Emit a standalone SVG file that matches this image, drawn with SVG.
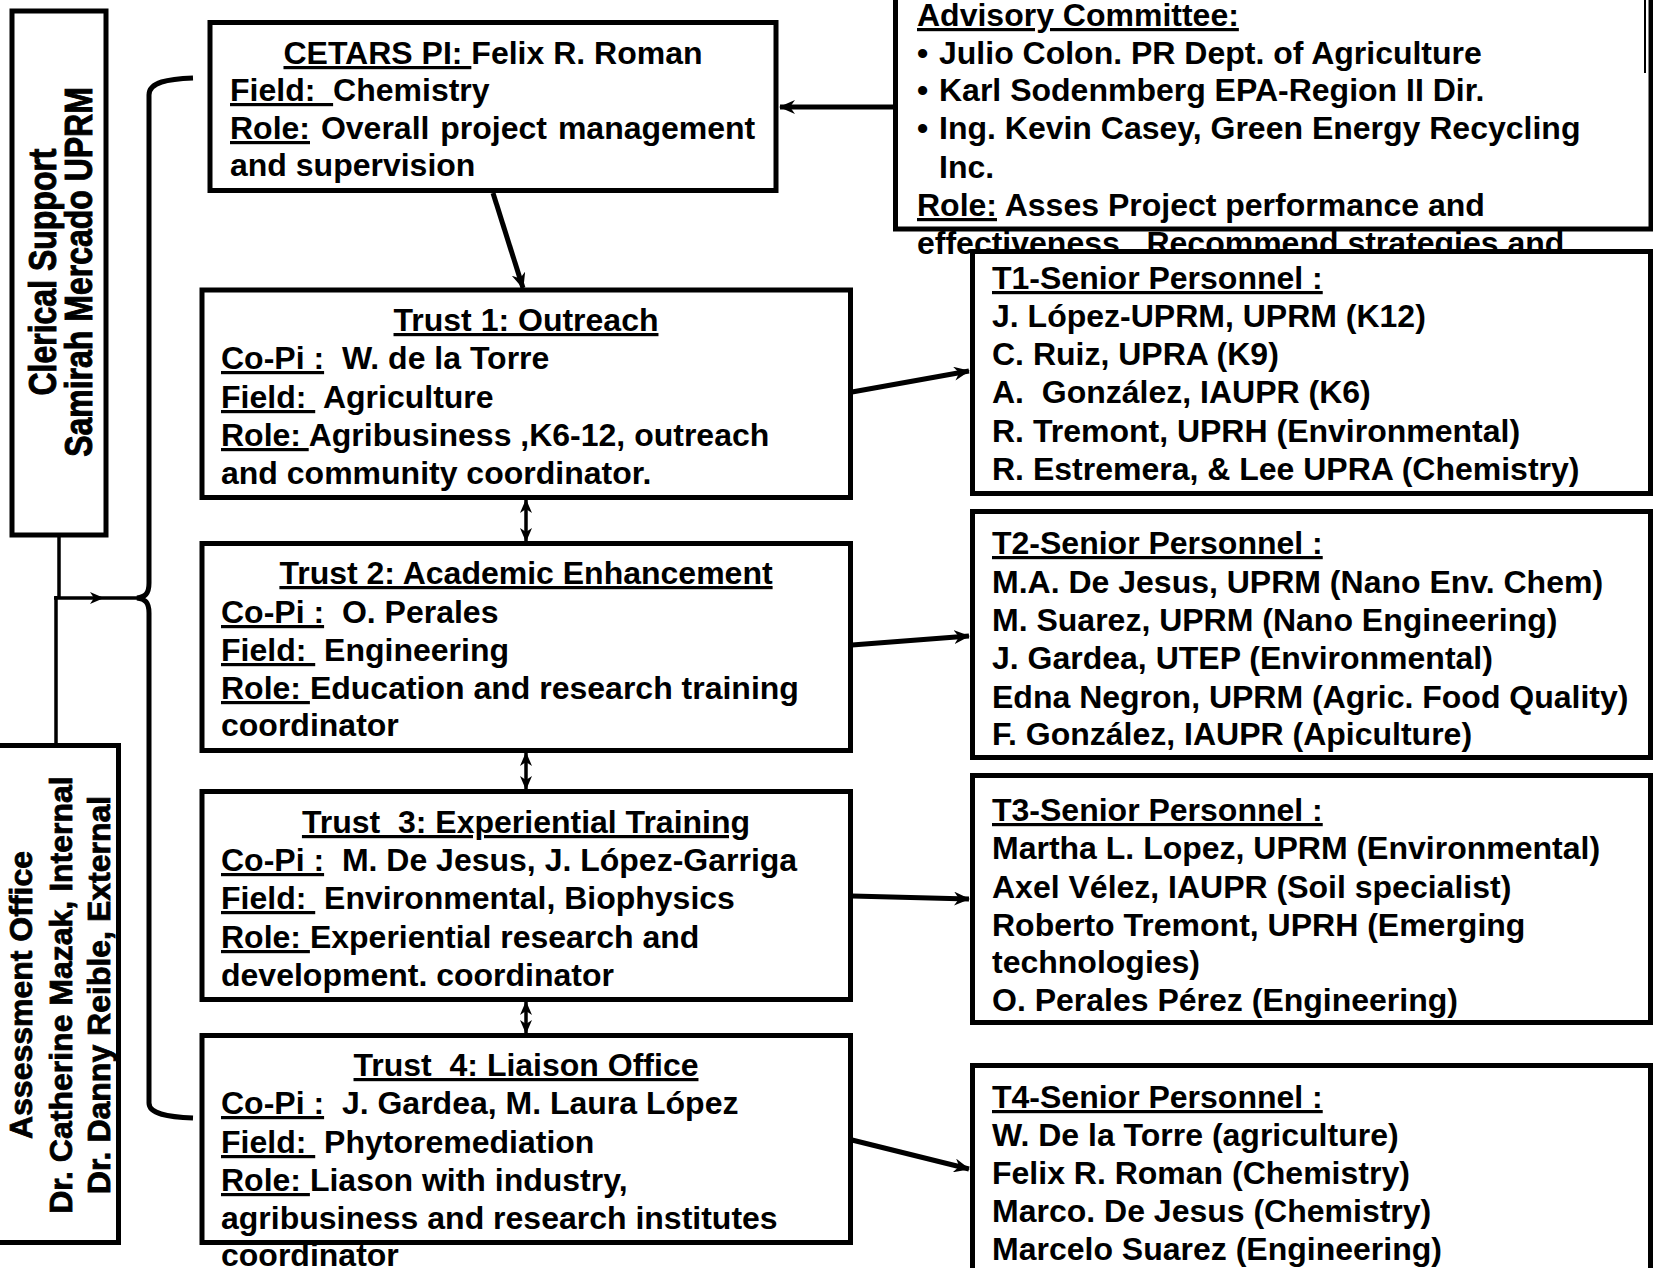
<svg xmlns="http://www.w3.org/2000/svg" width="1653" height="1268" viewBox="0 0 1653 1268">
<defs>
<style>
text{font-family:"Liberation Sans",Arial,sans-serif;font-weight:bold;font-size:32px;fill:#000;white-space:pre}
.u{text-decoration:underline}
.rot{stroke:#000;stroke-width:0.8}
.box{fill:#fff;stroke:#000;stroke-width:5}
.c{fill:none;stroke:#000;stroke-width:5}
.cs{fill:none;stroke:#000;stroke-width:3.5}
</style>
<marker id="ah" viewBox="0 0 16 14" refX="15" refY="7" markerWidth="16" markerHeight="14" markerUnits="userSpaceOnUse" orient="auto-start-reverse"><path d="M0,0 L16,7 L0,14 L5,7 z"/></marker>
<marker id="as" viewBox="0 0 14 12" refX="13" refY="6" markerWidth="14" markerHeight="12" markerUnits="userSpaceOnUse" orient="auto-start-reverse"><path d="M0,0 L14,6 L0,12 L4,6 z"/></marker>
</defs>
<rect x="0" y="0" width="1653" height="1268" fill="#fff"/>

<g id="clerical">
<rect class="box" x="12" y="11" width="94" height="524"/>
<g transform="translate(0,272) rotate(-90) scale(1,1.2)">
<text class="rot" x="0" y="46.5" text-anchor="middle">Clerical Support</text>
<text class="rot" x="0" y="77" text-anchor="middle">Samirah Mercado UPRM</text>
</g>
</g>

<g id="assessment">
<rect class="box" x="-5" y="745.5" width="123.5" height="497"/>
<g transform="translate(0,995) rotate(-90)">
<text class="rot" x="0" y="32" text-anchor="middle">Assessment Office</text>
<text class="rot" x="0" y="72" text-anchor="middle">Dr. Catherine Mazak, Internal</text>
<text class="rot" x="0" y="110" text-anchor="middle">Dr. Danny Reible, External</text>
</g>
</g>

<g id="connectors">
<path class="c" stroke-width="4" d="M895,107 H780" marker-end="url(#ah)"/>
<path class="c" d="M493,193 L523,288" marker-end="url(#ah)"/>
<path class="cs" d="M526,500 V541" marker-start="url(#as)" marker-end="url(#as)"/>
<path class="cs" d="M526,753 V789" marker-start="url(#as)" marker-end="url(#as)"/>
<path class="cs" d="M526,1002 V1033" marker-start="url(#as)" marker-end="url(#as)"/>
<path class="c" d="M852,392 L969,371" marker-end="url(#ah)"/>
<path class="c" d="M852,645 L969,636" marker-end="url(#ah)"/>
<path class="c" d="M852,896 L969,899" marker-end="url(#ah)"/>
<path class="c" d="M852,1140 L969,1169" marker-end="url(#ah)"/>
<path class="cs" stroke-width="4" d="M59,537 V598"/>
<path class="cs" stroke-width="5" d="M56,596 V745"/>
<path class="cs" stroke-width="4" d="M54,598 L103,598 L138,598" marker-mid="url(#as)"/>
<path class="c" stroke-width="4.5" d="M193,78 C168,79 149,82 149,95 V583 C149,594 145,597 137,598 C145,599 149,602 149,613 V1103 C149,1114 168,1117 193,1118"/>
</g>

<g id="cetars">
<rect class="box" x="210" y="22.5" width="566" height="168"/>
<text x="493" y="64" text-anchor="middle"><tspan class="u">CETARS PI: </tspan>Felix R. Roman</text>
<text x="230" y="101"><tspan class="u">Field:  </tspan>Chemistry</text>
<text x="230" y="139" word-spacing="2"><tspan class="u">Role:</tspan> Overall project management</text>
<text x="230" y="176">and supervision</text>
</g>

<g id="trust1">
<rect class="box" x="202" y="290" width="648.5" height="207.5"/>
<text x="526" y="331" text-anchor="middle"><tspan class="u">Trust 1: Outreach</tspan></text>
<text x="221" y="369"><tspan class="u">Co-Pi :</tspan>  W. de la Torre</text>
<text x="221" y="408"><tspan class="u">Field: </tspan> Agriculture</text>
<text x="221" y="446"><tspan class="u">Role: </tspan>Agribusiness ,K6-12, outreach</text>
<text x="221" y="484">and community coordinator.</text>
</g>

<g id="trust2">
<rect class="box" x="202" y="543.5" width="648.5" height="207"/>
<text x="526" y="584" text-anchor="middle"><tspan class="u">Trust 2: Academic Enhancement</tspan></text>
<text x="221" y="623"><tspan class="u">Co-Pi :</tspan>  O. Perales</text>
<text x="221" y="661"><tspan class="u">Field: </tspan> Engineering</text>
<text x="221" y="699"><tspan class="u">Role: </tspan>Education and research training</text>
<text x="221" y="736">coordinator</text>
</g>

<g id="trust3">
<rect class="box" x="202" y="791.5" width="648.5" height="208"/>
<text x="526" y="833" text-anchor="middle"><tspan class="u">Trust  3: Experiential Training</tspan></text>
<text x="221" y="871"><tspan class="u">Co-Pi :</tspan>  M. De Jesus, J. López-Garriga</text>
<text x="221" y="909"><tspan class="u">Field: </tspan> Environmental, Biophysics</text>
<text x="221" y="948"><tspan class="u">Role: </tspan>Experiential research and</text>
<text x="221" y="986">development. coordinator</text>
</g>

<g id="trust4">
<rect class="box" x="202" y="1035.5" width="648.5" height="207"/>
<text x="526" y="1076" text-anchor="middle"><tspan class="u">Trust  4: Liaison Office</tspan></text>
<text x="221" y="1114"><tspan class="u">Co-Pi :</tspan>  J. Gardea, M. Laura López</text>
<text x="221" y="1153"><tspan class="u">Field: </tspan> Phytoremediation</text>
<text x="221" y="1191"><tspan class="u">Role: </tspan>Liason with industry,</text>
<text x="221" y="1229">agribusiness and research institutes</text>
<text x="221" y="1266">coordinator</text>
</g>

<g id="advisory">
<rect class="box" x="895.5" y="-10" width="755.5" height="239"/>
<line x1="1645" y1="0" x2="1645" y2="73" stroke="#000" stroke-width="2"/>
<text x="917" y="26"><tspan class="u">Advisory Committee:</tspan></text>
<text x="917" y="64">•</text><text x="939" y="64">Julio Colon. PR Dept. of Agriculture</text>
<text x="917" y="101">•</text><text x="939" y="101">Karl Sodenmberg EPA-Region II Dir.</text>
<text x="917" y="139">•</text><text x="939" y="139">Ing. Kevin Casey, Green Energy Recycling</text>
<text x="939" y="178">Inc.</text>
<text x="917" y="216"><tspan class="u">Role:</tspan> Asses Project performance and</text>
<text x="917" y="254">effectiveness.  Recommend strategies and</text>
</g>

<g id="senior1">
<rect class="box" x="972.5" y="251.5" width="678" height="242"/>
<text x="992" y="289"><tspan class="u">T1-Senior Personnel :</tspan></text>
<text x="992" y="327">J. López-UPRM, UPRM (K12)</text>
<text x="992" y="365">C. Ruiz, UPRA (K9)</text>
<text x="992" y="403">A.  González, IAUPR (K6)</text>
<text x="992" y="442">R. Tremont, UPRH (Environmental)</text>
<text x="992" y="480">R. Estremera, &amp; Lee UPRA (Chemistry)</text>
</g>

<g id="senior2">
<rect class="box" x="972.5" y="511.5" width="678" height="246"/>
<text x="992" y="554"><tspan class="u">T2-Senior Personnel :</tspan></text>
<text x="992" y="593">M.A. De Jesus, UPRM (Nano Env. Chem)</text>
<text x="992" y="631">M. Suarez, UPRM (Nano Engineering)</text>
<text x="992" y="669">J. Gardea, UTEP (Environmental)</text>
<text x="992" y="708">Edna Negron, UPRM (Agric. Food Quality)</text>
<text x="992" y="745">F. González, IAUPR (Apiculture)</text>
</g>

<g id="senior3">
<rect class="box" x="972.5" y="775.5" width="678" height="247"/>
<text x="992" y="821"><tspan class="u">T3-Senior Personnel :</tspan></text>
<text x="992" y="859">Martha L. Lopez, UPRM (Environmental)</text>
<text x="992" y="898">Axel Vélez, IAUPR (Soil specialist)</text>
<text x="992" y="936">Roberto Tremont, UPRH (Emerging</text>
<text x="992" y="973">technologies)</text>
<text x="992" y="1011">O. Perales Pérez (Engineering)</text>
</g>

<g id="senior4">
<rect class="box" x="972.5" y="1065.5" width="678" height="220"/>
<text x="992" y="1108"><tspan class="u">T4-Senior Personnel :</tspan></text>
<text x="992" y="1146">W. De la Torre (agriculture)</text>
<text x="992" y="1184">Felix R. Roman (Chemistry)</text>
<text x="992" y="1222">Marco. De Jesus (Chemistry)</text>
<text x="992" y="1260">Marcelo Suarez (Engineering)</text>
</g>
</svg>
